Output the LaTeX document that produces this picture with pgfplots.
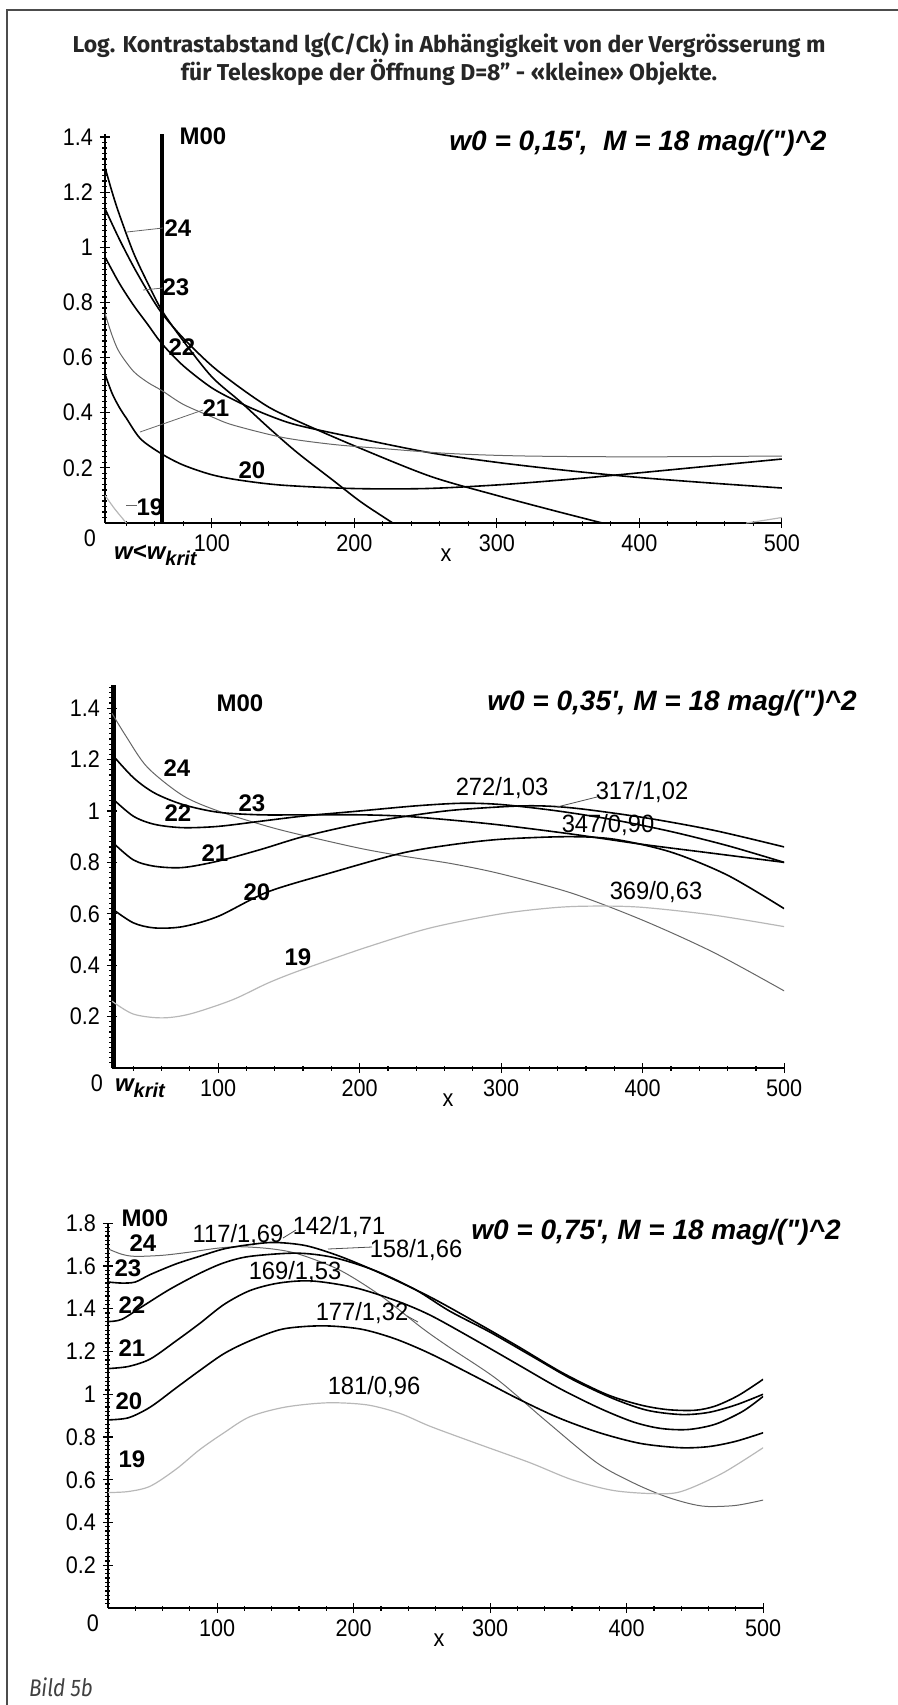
\documentclass[border=0pt]{standalone}
\usepackage{fontspec}
\setmainfont{Liberation Sans}
\newfontfamily\tickfont[FakeStretch=0.9]{Liberation Sans}
\newfontfamily\numfont[FakeStretch=0.95]{Liberation Sans}
\newfontfamily\titlefont{Fira Sans}
\newfontfamily\capfont[FakeStretch=0.86]{Fira Sans}
\usepackage{pgfplots}
\pgfplotsset{compat=1.18}

% Maple-like axes: two crossing axis lines, dense minor ticks
\pgfplotsset{
  maple/.style={
    anchor=south west,
    scale only axis,
    axis lines=left,
    axis line style={-, line width=0.8pt},
    tick align=center,
    major tick length=5pt,
    minor tick length=2.5pt,
    every tick/.style={black, line width=0.6pt},
    tick label style={font=\fontsize{12}{12}\tickfont},
    /pgf/number format/assume math mode=true,
    xtick={100,200,300,400,500},
    minor xtick={40,60,...,480},
    xmax=500, ymin=0,
    clip mode=individual,
    cycle list={{black, solid}},
    every axis plot/.append style={smooth, line width=0.8pt, no marks},
  },
  thin/.style={line width=0.5pt, black!60},
  faint/.style={line width=0.6pt, black!28},
}
\newcommand{\lab}{\fontsize{12}{12}\bfseries\selectfont}
\newcommand{\val}{\fontsize{12.5}{12.5}\numfont}
\newcommand{\wlab}{\fontsize{14}{14}\bfseries\itshape\selectfont}
\newcommand{\tk}{\fontsize{12}{12}\tickfont}
\newcommand{\magtxt}{M = 18 mag/(\textquotedbl)\^{}2}

\begin{document}
\begin{tikzpicture}[x=0.5pt,y=0.5pt]
\path[use as bounding box] (0,0) rectangle (898,-1705);
\draw[black!70, line width=0.8pt] (7,-1705) -- (7,-10) -- (898,-10);

\node[font=\fontsize{11.5}{14}\titlefont\bfseries, align=center, black!85] at (449,-59)
  {Log. Kontrastabstand lg(C/Ck) in Abhängigkeit von der Vergrösserung m\\
   für Teleskope der Öffnung D=8” - «kleine» Objekte.};

% ---------------- panel 1: w0 = 0,15'
\begin{axis}[maple, at={(52.5pt,-261.5pt)}, width=338.4pt, height=194.4pt,
  xmin=25, ymax=1.41,
  ytick={0.2,0.4,0.6,0.8,1,1.2,1.4},
  minor ytick={0.02,0.04,...,1.40}]
\addplot[sharp plot, line width=1.6pt] coordinates {(65,0) (65,1.418)};
\addplot coordinates {(25,1.29) (30,1.20) (35,1.12) (45,0.98) (55,0.87) (65,0.77) (80,0.66) (100,0.53) (120,0.44) (140,0.345) (160,0.255) (185,0.155) (205,0.075) (227,0.0)};
\addplot coordinates {(25,1.14) (35,1.03) (45,0.93) (55,0.84) (65,0.76) (80,0.67) (100,0.57) (120,0.49) (140,0.42) (160,0.37) (200,0.28) (253,0.17) (300,0.10) (340,0.045) (374,0.0)};
\addplot coordinates {(25,0.965) (35,0.87) (45,0.79) (55,0.72) (65,0.65) (80,0.57) (100,0.49) (120,0.435) (140,0.39) (160,0.355) (200,0.31) (253,0.255) (300,0.22) (350,0.19) (400,0.165) (450,0.145) (500,0.127)};
\addplot[thin] coordinates {(25,0.76) (30,0.68) (35,0.62) (45,0.55) (55,0.51) (65,0.48) (80,0.43) (100,0.385) (115,0.355) (150,0.31) (185,0.285) (220,0.27) (267,0.252) (320,0.243) (400,0.24) (500,0.243)};
\addplot coordinates {(25,0.54) (30,0.47) (35,0.42) (40,0.38) (50,0.305) (65,0.25) (80,0.21) (100,0.175) (120,0.155) (150,0.137) (200,0.125) (250,0.125) (300,0.138) (350,0.158) (400,0.182) (450,0.207) (500,0.232)};
\addplot[faint] coordinates {(25,0.10) (32,0.05) (40,0.0)};
\addplot[faint] coordinates {(475,0.0) (488,0.01) (500,0.02)};
\end{axis}
\node[font=\tk] at (90,-538) {0};
\node[anchor=west, font=\lab\itshape] at (107,-555) {w<w\raisebox{-3pt}{\fontsize{10}{10}\selectfont krit}};
\node[font=\tk] at (446,-555) {x};
\node[font=\lab] at (203,-136) {M00};
\node[font=\wlab] at (638,-143) {w0 = 0,15\textquotesingle,\ \ \magtxt};
\draw[black!60, line width=0.4pt] (127,-232) -- (163,-228);
\node[font=\lab] at (178,-228) {24};
\draw[black!60, line width=0.4pt] (143,-290) -- (163,-288);
\node[font=\lab] at (176,-287) {23};
\node[font=\lab] at (182,-347) {22};
\draw[black!60, line width=0.4pt] (140,-432) -- (203,-410);
\node[font=\lab] at (216,-408) {21};
\node[font=\lab] at (252,-470) {20};
\draw[black!60, line width=0.4pt] (126,-505) -- (137,-505);
\node[font=\lab] at (150,-507) {19};

% ---------------- panel 2: w0 = 0,35'
\begin{axis}[maple, at={(56pt,-534pt)}, width=336.1pt, height=191.5pt,
  xmin=25, ymax=1.49,
  ytick={0.2,0.4,0.6,0.8,1,1.2,1.4},
  minor ytick={0.02,0.04,...,1.48}]
\addplot[sharp plot, line width=1.6pt] coordinates {(27,0) (27,1.49)};
\addplot[thin] coordinates {(25,1.38) (35,1.29) (50,1.17) (75,1.06) (100,1.0) (135,0.94) (160,0.905) (200,0.855) (230,0.825) (265,0.795) (300,0.755) (350,0.68) (400,0.575) (450,0.45) (500,0.30)};
\addplot coordinates {(25,1.22) (40,1.13) (55,1.07) (75,1.025) (100,0.995) (130,0.985) (160,0.985) (200,0.985) (230,0.98) (264,0.965) (300,0.945) (350,0.91) (400,0.87) (450,0.835) (500,0.80)};
\addplot coordinates {(25,1.05) (40,0.98) (55,0.948) (75,0.935) (100,0.94) (130,0.96) (160,0.98) (200,1.0) (240,1.02) (272,1.03) (300,1.025) (340,1.0) (380,0.965) (420,0.92) (460,0.865) (500,0.80)};
\addplot coordinates {(25,0.88) (40,0.81) (55,0.785) (75,0.78) (100,0.805) (130,0.85) (160,0.90) (200,0.95) (240,0.985) (270,1.005) (317,1.02) (350,1.012) (400,0.975) (450,0.925) (500,0.86)};
\addplot coordinates {(25,0.62) (40,0.565) (55,0.545) (75,0.55) (100,0.59) (135,0.685) (180,0.76) (229,0.835) (264,0.868) (300,0.89) (347,0.90) (380,0.89) (420,0.84) (460,0.75) (500,0.62)};
\addplot[faint] coordinates {(25,0.26) (40,0.21) (60,0.195) (80,0.21) (110,0.265) (135,0.33) (158,0.38) (205,0.47) (250,0.545) (300,0.60) (340,0.625) (369,0.63) (400,0.625) (450,0.595) (500,0.55)};
\end{axis}
\node[font=\tk] at (97,-1083) {0};
\node[anchor=west, font=\lab\itshape] at (108,-1088) {w\raisebox{-3pt}{\fontsize{10}{10}\selectfont krit}};
\node[font=\tk] at (448,-1100) {x};
\node[font=\lab] at (240,-703) {M00};
\node[font=\wlab] at (672,-703) {w0 = 0,35\textquotesingle, \magtxt};
\node[font=\lab] at (177,-768) {24};
\node[font=\lab] at (252,-803) {23};
\node[font=\lab] at (178,-813) {22};
\node[font=\lab] at (215,-853) {21};
\node[font=\lab] at (257,-892) {20};
\node[font=\lab] at (298,-957) {19};
\node[font=\val] at (502,-788) {272/1,03};
\draw[black!70, line width=0.4pt] (557,-807) -- (597,-797);
\node[font=\val] at (642,-792) {317/1,02};
\node[font=\val] at (608,-825) {347/0,90};
\node[font=\val] at (656,-892) {369/0,63};

% ---------------- panel 3: w0 = 0,75'
\begin{axis}[maple, at={(54pt,-804pt)}, width=327.6pt, height=192.4pt,
  xmin=20, ymax=1.8,
  ytick={0.2,0.4,0.6,0.8,1,1.2,1.4,1.6,1.8},
  minor ytick={0.02,0.04,...,1.80}]
\addplot[thin] coordinates {(20,1.68) (30,1.655) (40,1.645) (60,1.65) (80,1.665) (100,1.683) (117,1.69) (140,1.68) (160,1.655) (190,1.58) (220,1.46) (250,1.31) (270,1.22) (305,1.07) (340,0.88) (378,0.68) (405,0.585) (427,0.525) (445,0.49) (459,0.475) (480,0.48) (500,0.505)};
\addplot coordinates {(20,1.525) (30,1.52) (40,1.525) (51,1.56) (70,1.61) (87,1.645) (105,1.68) (124,1.70) (142,1.71) (165,1.695) (190,1.645) (220,1.565) (256,1.455) (290,1.335) (320,1.225) (353,1.10) (385,1.0) (410,0.95) (430,0.928) (450,0.925) (465,0.945) (482,0.995) (500,1.07)};
\addplot coordinates {(20,1.34) (30,1.35) (45,1.41) (65,1.49) (87,1.565) (105,1.615) (124,1.645) (158,1.66) (185,1.64) (215,1.58) (245,1.49) (270,1.39) (300,1.29) (330,1.18) (360,1.07) (390,0.98) (415,0.925) (440,0.905) (460,0.915) (480,0.95) (500,1.0)};
\addplot coordinates {(20,1.12) (35,1.13) (51,1.165) (70,1.25) (87,1.33) (105,1.42) (124,1.485) (145,1.52) (169,1.53) (200,1.50) (230,1.44) (256,1.37) (290,1.25) (320,1.14) (350,1.03) (380,0.935) (405,0.87) (425,0.84) (445,0.835) (465,0.86) (485,0.92) (500,0.99)};
\addplot coordinates {(20,0.88) (35,0.89) (51,0.94) (70,1.03) (87,1.11) (105,1.19) (124,1.25) (148,1.305) (177,1.32) (205,1.305) (230,1.26) (256,1.19) (290,1.08) (320,0.98) (350,0.89) (380,0.82) (410,0.77) (439,0.75) (460,0.755) (480,0.78) (500,0.82)};
\addplot[faint] coordinates {(20,0.54) (35,0.545) (51,0.57) (70,0.65) (87,0.74) (105,0.82) (124,0.895) (150,0.94) (181,0.96) (210,0.95) (234,0.91) (256,0.85) (290,0.77) (329,0.68) (360,0.60) (390,0.55) (420,0.535) (440,0.545) (470,0.63) (500,0.75)};
\end{axis}
\node[font=\tk] at (93,-1623) {0};
\node[font=\tk] at (439,-1640) {x};
\node[font=\lab] at (145,-1218) {M00};
\node[font=\wlab] at (656,-1232) {w0 = 0,75\textquotesingle, \magtxt};
\node[font=\lab] at (143,-1243) {24};
\node[font=\lab] at (128,-1268) {23};
\node[font=\lab] at (132,-1305) {22};
\node[font=\lab] at (132,-1348) {21};
\node[font=\lab] at (129,-1401) {20};
\node[font=\lab] at (132,-1459) {19};
\node[font=\val] at (238,-1235) {117/1,69};
\draw[black!70, line width=0.4pt] (283,-1238) -- (296,-1230);
\node[font=\val] at (339,-1227) {142/1,71};
\draw[black!70, line width=0.4pt] (328,-1249) -- (372,-1247);
\node[font=\val] at (416,-1250) {158/1,66};
\node[font=\val] at (295,-1272) {169/1,53};
\draw[black!70, line width=0.4pt] (407,-1316) -- (418,-1322);
\node[font=\val] at (362,-1313) {177/1,32};
\node[font=\val] at (374,-1387) {181/0,96};

\node[anchor=west, font=\fontsize{12}{12}\capfont\itshape, black!75] at (22,-1687) {Bild 5b};
\end{tikzpicture}
\end{document}
